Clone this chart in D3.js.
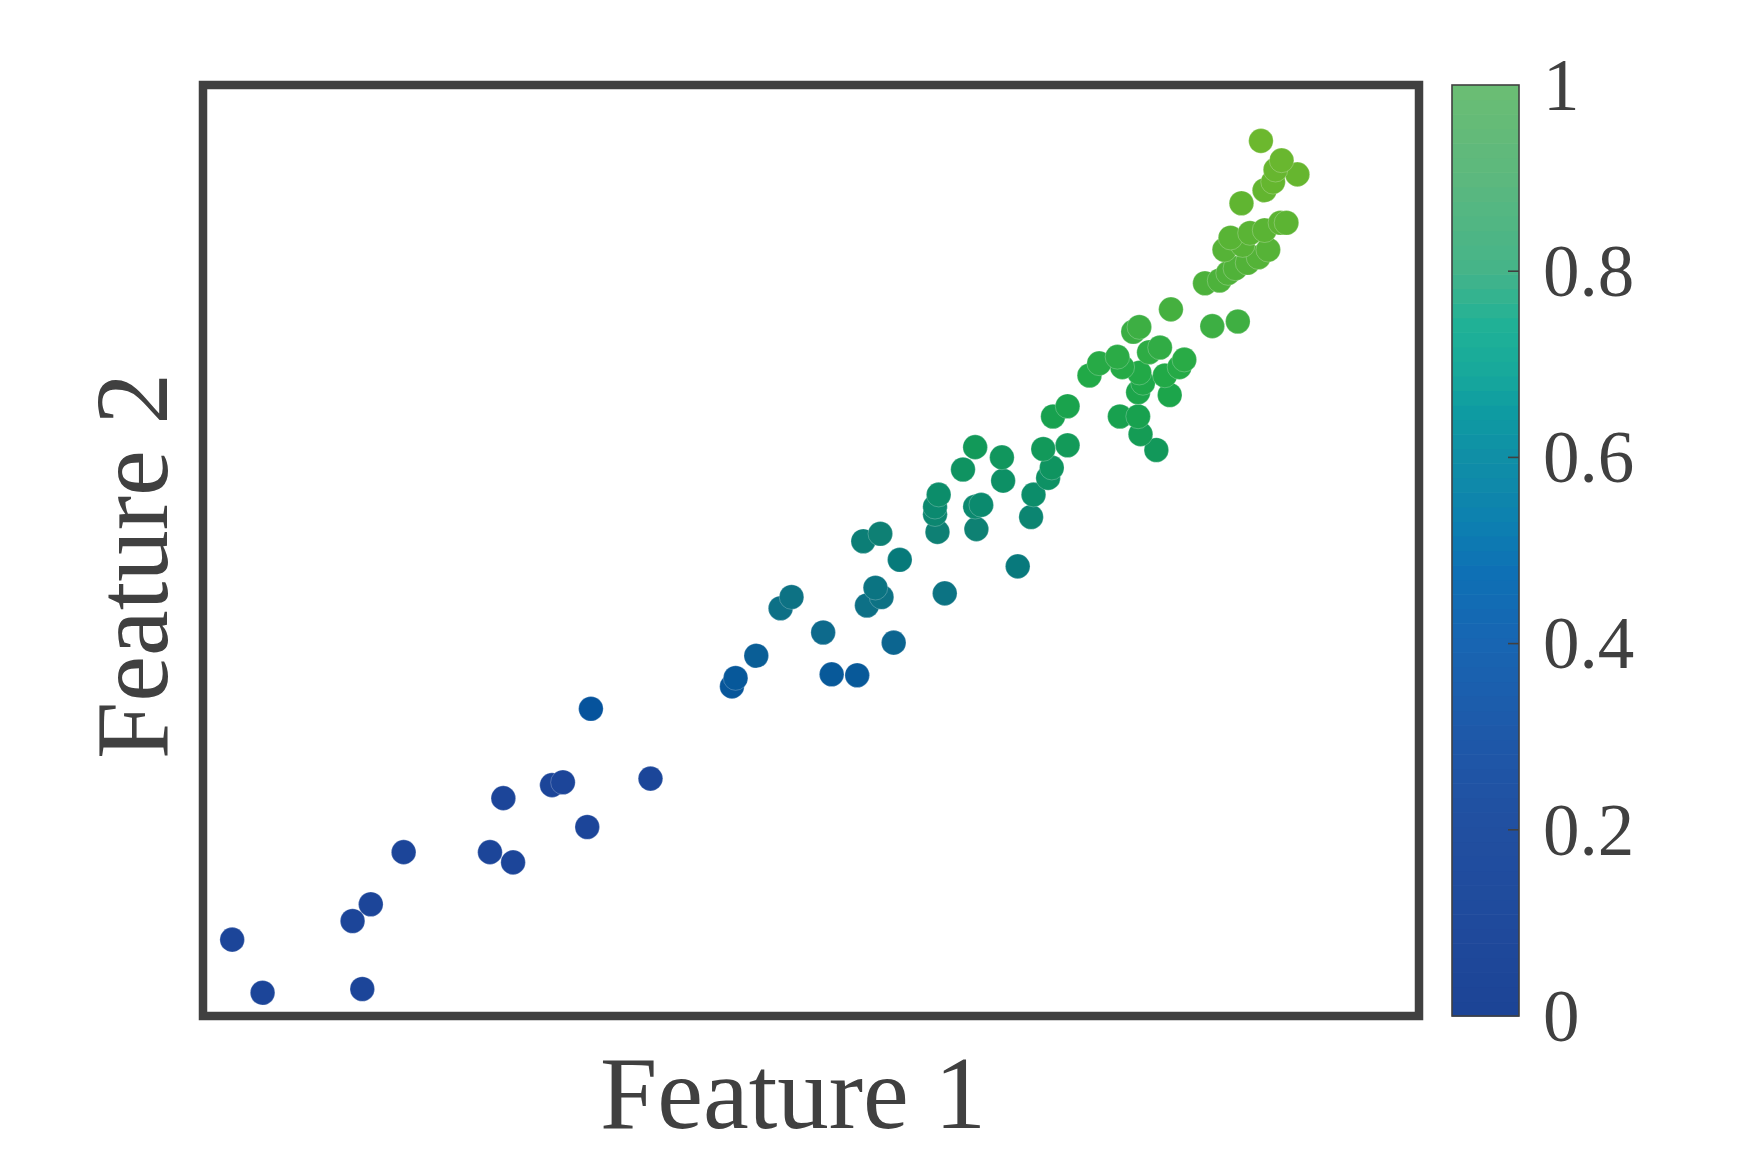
<!DOCTYPE html>
<html>
<head>
<meta charset="utf-8">
<script src="https://cdn.jsdelivr.net/npm/d3@7"></script>
<style>
  html, body { margin: 0; padding: 0; background: #fff; }
  svg { display: block; font-family: "Liberation Serif", "Times New Roman", serif; }
</style>
</head>
<body>
<div id="chart"></div>
<script>
// Feature 1 / Feature 2 values (unitless)
const feature1 = [
  0.870, 0.887, 0.900, 0.882, 0.880, 0.873, 0.854, 0.886, 0.891, 0.873,
  0.861, 0.845, 0.876, 0.840, 0.868, 0.859, 0.843, 0.836, 0.824, 0.855,
  0.849, 0.796, 0.830, 0.851, 0.765, 0.770, 0.787, 0.778, 0.752, 0.737,
  0.729, 0.756, 0.770, 0.807, 0.803, 0.791, 0.773, 0.769, 0.795, 0.754,
  0.769, 0.771, 0.784, 0.711, 0.699, 0.711, 0.635, 0.657, 0.625, 0.658,
  0.691, 0.698, 0.695, 0.683, 0.681, 0.605, 0.602, 0.602, 0.604, 0.640,
  0.635, 0.636, 0.573, 0.670, 0.610, 0.484, 0.475, 0.553, 0.558, 0.546,
  0.510, 0.568, 0.455, 0.438, 0.435, 0.517, 0.538, 0.319, 0.296, 0.287,
  0.368, 0.247, 0.316, 0.165, 0.236, 0.255, 0.138, 0.123, 0.024, 0.049,
  0.131, 0.543, 0.557
];
const feature2 = [
  0.940, 0.919, 0.904, 0.909, 0.896, 0.887, 0.873, 0.852, 0.852, 0.844,
  0.841, 0.836, 0.823, 0.823, 0.815, 0.809, 0.798, 0.790, 0.787, 0.828,
  0.803, 0.759, 0.741, 0.746, 0.735, 0.740, 0.718, 0.713, 0.708, 0.701,
  0.688, 0.697, 0.691, 0.705, 0.697, 0.688, 0.680, 0.670, 0.667, 0.644,
  0.644, 0.625, 0.608, 0.655, 0.644, 0.613, 0.611, 0.600, 0.587, 0.575,
  0.609, 0.589, 0.578, 0.560, 0.536, 0.560, 0.547, 0.539, 0.520, 0.549,
  0.547, 0.523, 0.490, 0.483, 0.454, 0.450, 0.438, 0.460, 0.450, 0.441,
  0.412, 0.401, 0.387, 0.363, 0.354, 0.367, 0.366, 0.330, 0.251, 0.248,
  0.255, 0.234, 0.203, 0.176, 0.176, 0.165, 0.120, 0.102, 0.082, 0.025,
  0.029, 0.510, 0.518
];

// colour of the dots, keyed on Feature 2
const dotStops = [0.25, 0.33, 0.36, 0.39, 0.41, 0.45, 0.49, 0.52, 0.55, 0.59, 0.64, 0.69, 0.74, 0.76, 0.82, 0.88, 0.94];
const dotColors = ['#1c4599', '#06539c', '#07579a', '#0a5f96', '#0d6a8c', '#0d7284', '#077a7a', '#0e8074',
  '#0b8a6e', '#0f9460', '#17a050', '#21a947', '#3daf43', '#45b03f', '#55b337', '#62b530', '#6cb82e'];

// colorbar
const barStops = [0, 0.1, 0.2, 0.3, 0.4, 0.48, 0.53, 0.6, 0.65, 0.69, 0.74, 0.8, 0.9, 1];
const barColors = ['#1c4495', '#1f4a9c', '#214fa0', '#1e58a9', '#1865b2', '#0e71b5', '#0d80b0',
  '#108fa6', '#0e9ba2', '#17a89b', '#1fb197', '#45b489', '#5cb87e', '#6bbd73'];
const barTicks = [0, 0.2, 0.4, 0.6, 0.8, 1];

const width = 1750, height = 1150;
const plot = { left: 203, right: 1419, top: 85, bottom: 1016 };
const bar = { left: 1452, right: 1519 };
const ink = '#404040';

const svg = d3.select('#chart').append('svg')
  .attr('width', width).attr('height', height)
  .attr('viewBox', `0 0 ${width} ${height}`);

const x = d3.scaleLinear().domain([0, 1]).range([plot.left, plot.right]);
const y = d3.scaleLinear().domain([0, 1]).range([plot.bottom, plot.top]);
const dotColor = d3.scaleLinear().domain(dotStops).range(dotColors).clamp(true);

const points = feature1.map((f, i) => ({ f1: f, f2: feature2[i] }))
  .sort((a, b) => a.f2 - b.f2);

svg.append('g').attr('class', 'dots')
  .selectAll('circle').data(points).join('circle')
  .attr('cx', d => x(d.f1))
  .attr('cy', d => y(d.f2))
  .attr('r', 12.3)
  .attr('fill', d => dotColor(d.f2))
  .attr('stroke', '#ffffff').attr('stroke-opacity', 0.4).attr('stroke-width', 0.6);

// axes box, no ticks
svg.append('rect')
  .attr('x', plot.left).attr('y', plot.top)
  .attr('width', plot.right - plot.left).attr('height', plot.bottom - plot.top)
  .attr('fill', 'none').attr('stroke', ink).attr('stroke-width', 8.5);

svg.append('text')
  .attr('x', 793).attr('y', 1128)
  .attr('text-anchor', 'middle')
  .attr('font-size', 103).attr('fill', ink)
  .text('Feature 1');

svg.append('text')
  .attr('transform', `translate(167,566) rotate(-90)`)
  .attr('text-anchor', 'middle')
  .attr('font-size', 103).attr('fill', ink)
  .text('Feature 2');

// colorbar
const c = d3.scaleLinear().domain([0, 1]).range([plot.bottom, plot.top]);
const barColor = d3.scaleLinear().domain(barStops).range(barColors);
const bands = d3.range(64);
svg.append('g').attr('class', 'colorbar')
  .selectAll('rect').data(bands).join('rect')
  .attr('x', bar.left)
  .attr('y', i => c((i + 1) / 64))
  .attr('width', bar.right - bar.left)
  .attr('height', i => c(i / 64) - c((i + 1) / 64) + 0.6)
  .attr('fill', i => barColor((i + 0.5) / 64));

svg.append('rect')
  .attr('x', bar.left).attr('y', plot.top)
  .attr('width', bar.right - bar.left).attr('height', plot.bottom - plot.top)
  .attr('fill', 'none').attr('stroke', ink).attr('stroke-width', 1.6);

const cAxis = svg.append('g').attr('class', 'cbar-axis');
cAxis.selectAll('line').data(barTicks.slice(1, -1)).join('line')
  .attr('x1', bar.right - 11).attr('x2', bar.right)
  .attr('y1', d => c(d)).attr('y2', d => c(d))
  .attr('stroke', ink).attr('stroke-width', 1.6);
cAxis.selectAll('text').data(barTicks).join('text')
  .attr('x', 1543).attr('y', d => c(d))
  .attr('dy', '0.34em')
  .attr('font-size', 73).attr('fill', ink)
  .text(d => d3.format('~g')(d));
</script>
</body>
</html>
